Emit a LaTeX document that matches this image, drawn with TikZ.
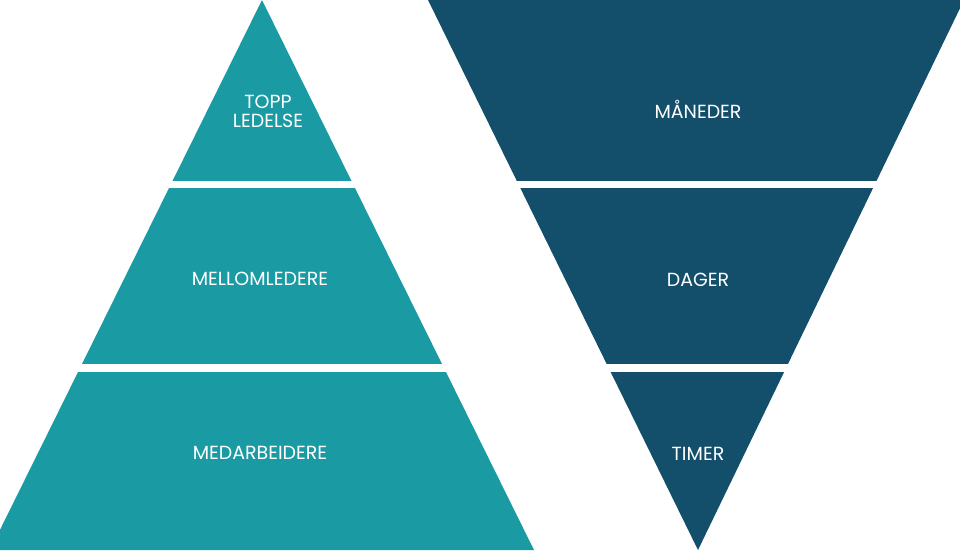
\documentclass[tikz,border=0pt]{standalone}
\usepackage{fontspec}
\setmainfont{Poppins}
\definecolor{tealband}{HTML}{1A9AA3}
\definecolor{navyband}{HTML}{134E6A}
\tikzset{
    label/.style={text=white,font=\fontsize{19}{22}\selectfont,align=center,inner sep=0pt},
    gap/.style={fill=white}
}
\begin{document}
\begin{tikzpicture}[x=1pt,y=-1pt]
    \useasboundingbox (0,0) rectangle (960,550);
    % pyramid
    \fill[tealband] (262,0) -- (534,550) -- (-10,550) -- cycle;
    % funnel
    \fill[navyband] (428,0) -- (964,0) -- (698,550) -- cycle;
    % white gaps between the bands
    \fill[gap] (0,181) rectangle (960,188);
    \fill[gap] (0,364) rectangle (960,372);

    \node[label] (topp) at (268,111) {TOPP\\[-3pt]LEDELSE};
    \node[label] (mellom) at (260,279) {MELLOMLEDERE};
    \node[label] (medarb) at (260,453) {MEDARBEIDERE};
    \node[label] (maaned) at (698,109) {MÅNEDER};
    \node[label] (dager) at (698,280) {DAGER};
    \node[label] (timer) at (698,454) {TIMER};
\end{tikzpicture}
\end{document}
